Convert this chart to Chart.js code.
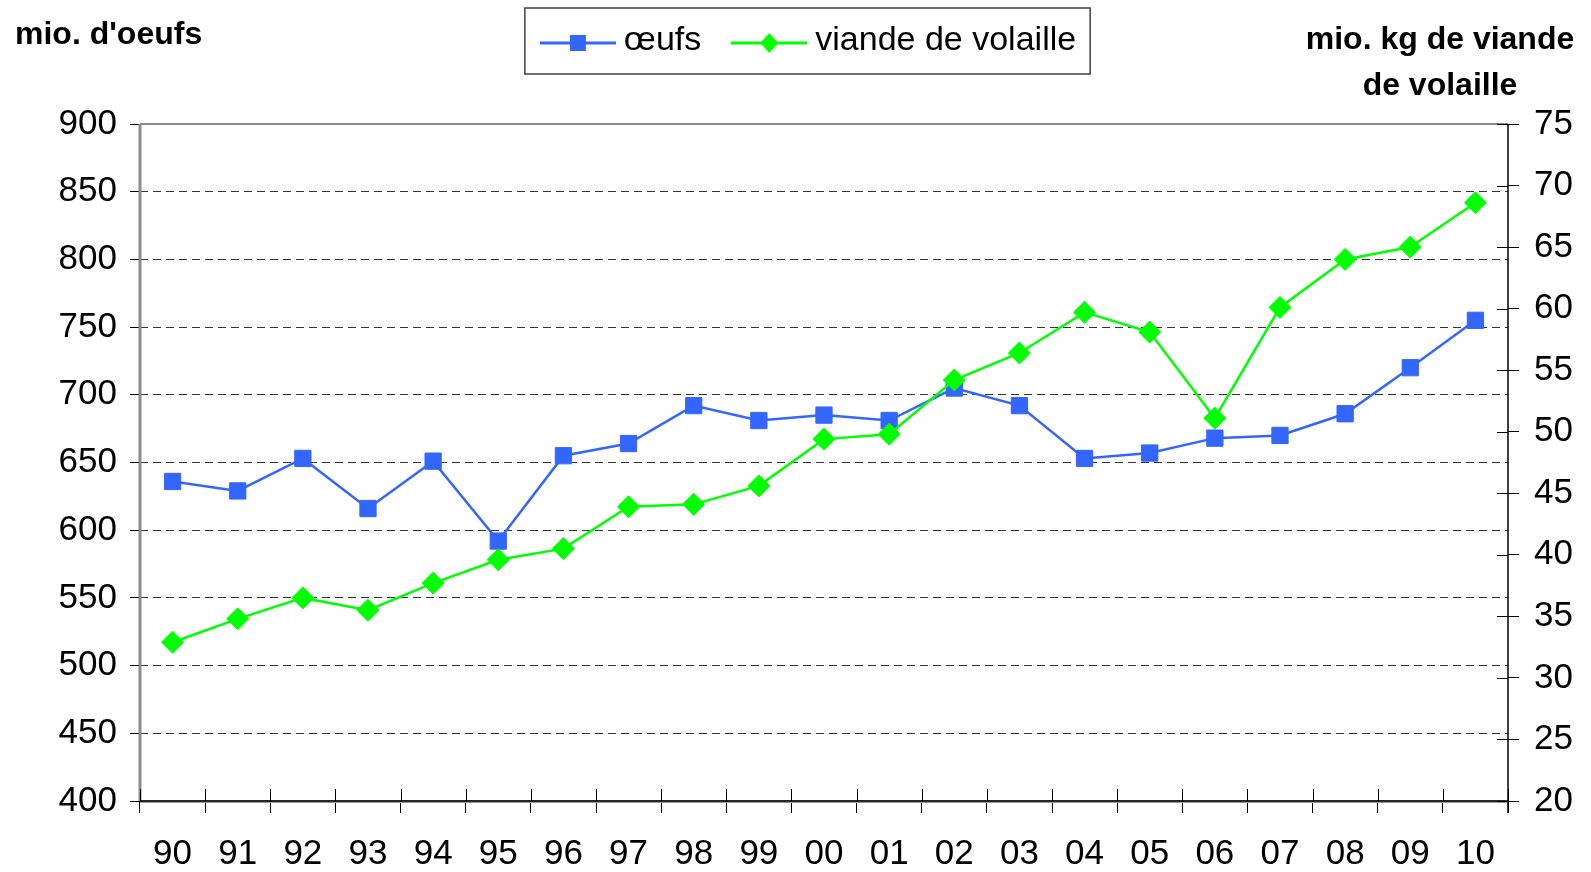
<!DOCTYPE html>
<html><head><meta charset="utf-8">
<script src="https://cdn.jsdelivr.net/npm/chart.js@4.4.1/dist/chart.umd.min.js"></script>
<style>html,body{margin:0;padding:0;background:#fff}canvas{display:block}</style>
</head><body>
<canvas id="c" width="1591" height="872"></canvas>
<script>
const categories = ['90','91','92','93','94','95','96','97','98','99','00','01','02','03','04','05','06','07','08','09','10'];
const oeufs = [636, 629, 653, 616, 651, 592, 655, 664, 692, 681, 685, 681, 705, 692, 653, 657, 668, 670, 686, 720, 755];
const viande = [32.9, 34.8, 36.5, 35.5, 37.7, 39.6, 40.5, 43.9, 44.1, 45.6, 49.4, 49.8, 54.2, 56.4, 59.7, 58.1, 51.1, 60.1, 64.0, 65.0, 68.6];
const leftTicks = [400, 450, 500, 550, 600, 650, 700, 750, 800, 850, 900];
const rightTicks = [20, 25, 30, 35, 40, 45, 50, 55, 60, 65, 70, 75];
const seriesLabels = ['œufs', 'viande de volaille'];
const leftTitle = "mio. d'oeufs";
const rightTitle = ['mio. kg de viande', 'de volaille'];

const BLUE = '#3366FF', GREEN = '#00FF00';
const FONT = "'Liberation Sans', Arial, sans-serif";

function makeIcon(color, shape) {
  const c = document.createElement('canvas'); c.width = 76; c.height = 40;
  const x = c.getContext('2d');
  x.strokeStyle = color; x.lineWidth = 3;
  x.beginPath(); x.moveTo(0, 22); x.lineTo(76, 22); x.stroke();
  x.fillStyle = color;
  if (shape === 'square') { x.fillRect(30, 14, 16, 16); }
  else { x.beginPath(); x.moveTo(38, 12); x.lineTo(47, 22); x.lineTo(38, 32); x.lineTo(29, 22); x.closePath(); x.fill(); }
  return c;
}
const legendIcons = [makeIcon(BLUE, 'square'), makeIcon(GREEN, 'diamond')];

Chart.defaults.font.family = FONT;
Chart.defaults.color = '#000';

const LEGEND_TOP = -15;
const legendHeightPlugin = {
  id: 'legendHeight',
  beforeLayout(chart) {
    const lg = chart.legend;
    if (lg && !lg._wrappedFit) {
      const f = lg.fit;
      lg.fit = function () { f.call(this); this.height = 124 - LEGEND_TOP; };
      lg._wrappedFit = true;
    }
  }
};

const decorPlugin = {
  id: 'decor',
  afterDraw(chart) {
    const ctx = chart.ctx;
    const a = chart.chartArea;
    ctx.save();
    const hb = chart.legend.legendHitBoxes;
    if (hb && hb.length) {
      const l = hb[0].left - 24, r = hb[hb.length - 1].left + hb[hb.length - 1].width + 14;
      ctx.strokeStyle = '#404040'; ctx.lineWidth = 1.5;
      ctx.strokeRect(l, 8, r - l, 66);
    }
    ctx.setLineDash([]);
    ctx.strokeStyle = '#8c8c8c'; ctx.lineWidth = 2;
    ctx.beginPath(); ctx.moveTo(a.left, a.top); ctx.lineTo(a.right, a.top); ctx.stroke();
    ctx.lineWidth = 3;
    ctx.beginPath(); ctx.moveTo(a.left, a.top); ctx.lineTo(a.left, a.bottom); ctx.stroke();
    ctx.strokeStyle = '#999'; ctx.lineWidth = 3;
    ctx.beginPath(); ctx.moveTo(a.left, a.bottom + 0.5); ctx.lineTo(a.right, a.bottom + 0.5); ctx.stroke();
    ctx.strokeStyle = '#000'; ctx.lineWidth = 1.5;
    ctx.beginPath(); ctx.moveTo(a.left, a.bottom); ctx.lineTo(a.right, a.bottom); ctx.stroke();
    ctx.beginPath(); ctx.moveTo(a.right, a.top); ctx.lineTo(a.right, a.bottom + 12); ctx.stroke();
    ctx.lineWidth = 1;
    const n = categories.length;
    for (let k = 0; k <= n; k++) {
      const x = Math.round(a.left + k * (a.right - a.left) / n) + 0.5;
      ctx.beginPath(); ctx.moveTo(x, a.bottom - 12); ctx.lineTo(x, a.bottom); ctx.stroke();
    }
    const y1 = chart.scales.y1;
    rightTicks.forEach(v => {
      const y = Math.round(y1.getPixelForValue(v)) + 0.5;
      ctx.beginPath(); ctx.moveTo(a.right - 11, y); ctx.lineTo(a.right, y); ctx.stroke();
    });
    ctx.fillStyle = '#000';
    ctx.font = "bold 32px " + FONT;
    ctx.textBaseline = 'alphabetic';
    ctx.textAlign = 'left';
    ctx.fillText(leftTitle, 15, 44);
    ctx.textAlign = 'center';
    ctx.fillText(rightTitle[0], 1440, 49);
    ctx.fillText(rightTitle[1], 1440, 95);
    ctx.restore();
  }
};

new Chart(document.getElementById('c').getContext('2d'), {
  type: 'line',
  data: {
    labels: categories,
    datasets: [
      { label: seriesLabels[0], data: oeufs, yAxisID: 'y', borderColor: BLUE, backgroundColor: BLUE,
        borderWidth: 2.5, pointStyle: 'rect', pointRadius: 11.5, pointBorderWidth: 1, order: 2, tension: 0 },
      { label: seriesLabels[1], data: viande, yAxisID: 'y1', borderColor: GREEN, backgroundColor: GREEN,
        borderWidth: 2.5, pointStyle: 'rectRot', pointRadius: 11, pointBorderWidth: 1, order: 1, tension: 0 }
    ]
  },
  options: {
    responsive: false, animation: false, devicePixelRatio: 1,
    layout: { padding: { left: 34, right: 0, top: LEGEND_TOP, bottom: 0 } },
    plugins: {
      tooltip: { enabled: false },
      legend: {
        position: 'top',
        labels: {
          usePointStyle: true, pointStyleWidth: 58, padding: 39, color: '#000',
          font: { size: 34 },
          generateLabels: (chart) => chart.data.datasets.map((ds, i) => ({
            text: ds.label, fillStyle: ds.borderColor, strokeStyle: ds.borderColor, lineWidth: 0,
            pointStyle: legendIcons[i], hidden: false, datasetIndex: i, fontColor: '#000'
          }))
        }
      }
    },
    scales: {
      x: {
        type: 'category', offset: true,
        grid: { display: true, drawOnChartArea: false, drawTicks: true, tickLength: 12, color: '#000', tickColor: '#000', offset: true, lineWidth: 1 },
        border: { display: false },
        ticks: { font: { size: 35 }, color: '#000', padding: 20, maxRotation: 0, autoSkip: false },
        afterFit(s) { s.height = 71; }
      },
      y: {
        position: 'left', min: 400, max: 900,
        afterBuildTicks(s) { s.ticks = leftTicks.map(v => ({ value: v })); },
        grid: { color: '#333', lineWidth: 1, tickLength: 10, tickColor: '#000', tickBorderDash: [], drawTicks: true },
        border: { display: false, dash: [8, 5] },
        ticks: { font: { size: 35 }, padding: 13, color: '#000' },
        afterFit(s) { s.width = 106; }
      },
      y1: {
        position: 'right', min: 20, max: 75,
        afterBuildTicks(s) { s.ticks = rightTicks.map(v => ({ value: v })); },
        grid: { drawOnChartArea: false, tickLength: 11, tickColor: '#000', color: '#000' },
        border: { display: false },
        ticks: { font: { size: 35 }, padding: 15, color: '#000' },
        afterFit(s) { s.width = 83; }
      }
    }
  },
  plugins: [legendHeightPlugin, decorPlugin]
});
</script>
</body></html>
